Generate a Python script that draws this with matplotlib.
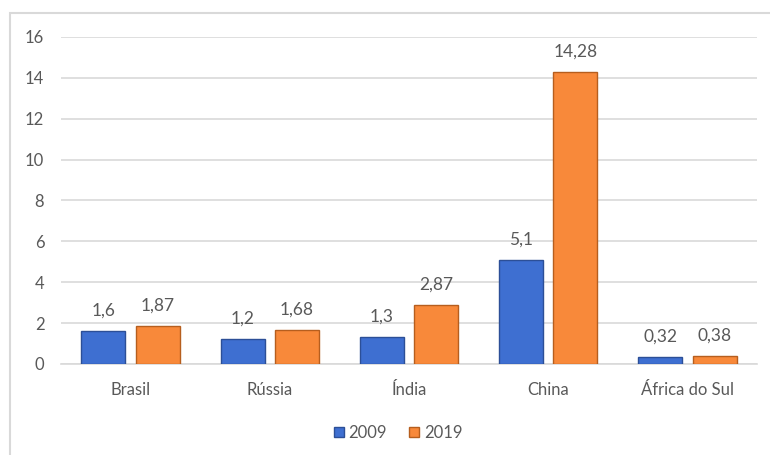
import matplotlib
matplotlib.use("Agg")
import matplotlib.pyplot as plt
from matplotlib.patches import Rectangle
import numpy as np

plt.rcParams['font.family'] = ['Lato', 'DejaVu Sans']

categories = ["Brasil", "Rússia", "Índia", "China", "África do Sul"]
v2009 = [1.6, 1.2, 1.3, 5.1, 0.32]
v2019 = [1.87, 1.68, 2.87, 14.28, 0.38]
lab2009 = ["1,6", "1,2", "1,3", "5,1", "0,32"]
lab2019 = ["1,87", "1,68", "2,87", "14,28", "0,38"]
yticks = [0, 2, 4, 6, 8, 10, 12, 14, 16]

fig = plt.figure(figsize=(7.7, 4.55), dpi=100)
ax = fig.add_axes([0.0792, 0.2, 0.904, 0.7187])

x = np.arange(len(categories))
w = 0.316
off = 0.195
text_c = "#595959"

b1 = ax.bar(x - off, v2009, w, color="#3E6FD1", edgecolor="#2C4F97", linewidth=1.0, zorder=3, label="2009")
b2 = ax.bar(x + off, v2019, w, color="#F8893A", edgecolor="#B65E1E", linewidth=1.0, zorder=3, label="2019")

for xi, v, t in zip(x - off, v2009, lab2009):
    ax.annotate(t, (xi, v), xytext=(0, 9), textcoords="offset points", ha="center", va="bottom",
                fontsize=12.5, color=text_c)
for xi, v, t in zip(x + off, v2019, lab2019):
    ax.annotate(t, (xi, v), xytext=(0, 9), textcoords="offset points", ha="center", va="bottom",
                fontsize=12.5, color=text_c)

ax.set_xlim(-0.5, len(categories) - 0.5)
ax.set_ylim(0, 16)
ax.set_yticks(yticks)
ax.set_yticklabels([str(t) for t in yticks])
ax.set_xticks(x)
ax.set_xticklabels(categories)
ax.tick_params(axis="both", length=0, labelsize=12, labelcolor=text_c)
ax.tick_params(axis="y", pad=12)
ax.tick_params(axis="x", pad=13)
ax.grid(axis="y", color="#D9D9D9", linewidth=1.2, zorder=0)
for s in ["top", "right", "left"]:
    ax.spines[s].set_visible(False)
ax.spines["bottom"].set_color("#D9D9D9")
ax.spines["bottom"].set_linewidth(1.2)

leg = fig.legend(handles=[b1, b2], labels=["2009", "2019"], loc="center", bbox_to_anchor=(398 / 770, 1 - 433 / 455),
                 ncol=2, frameon=False, fontsize=12, handlelength=0.6, handleheight=0.6,
                 handletextpad=0.3, columnspacing=1.3)
for t in leg.get_texts():
    t.set_color(text_c)

fig.patches.append(Rectangle((10 / 770, -0.1), 1.2, 1.1 - 13 / 455, transform=fig.transFigure,
                             fill=False, edgecolor="#D9D9D9", linewidth=1.5, figure=fig))

fig.savefig("out.png", dpi=100)
